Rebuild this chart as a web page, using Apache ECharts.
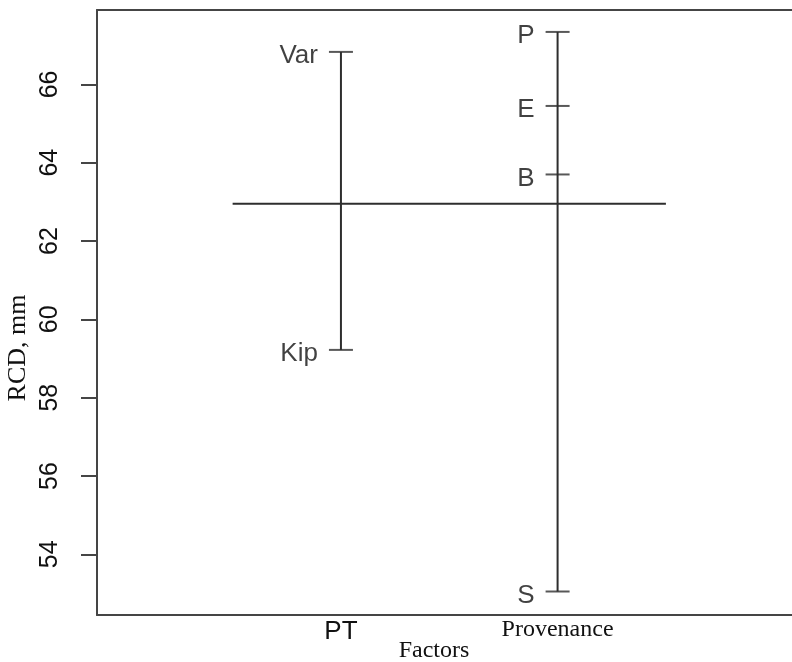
<!DOCTYPE html>
<html>
<head>
<meta charset="utf-8">
<script src="https://cdn.jsdelivr.net/npm/echarts@6/dist/echarts.min.js"></script>
<style>
html,body{margin:0;padding:0;background:#fff;}
#chart{width:792px;height:662px;}
</style>
</head>
<body>
<div id="chart"></div>
<script>
// ---- data ----
const factors = ['PT', 'Provenance'];
const ptLevels = ['Var', 'Kip'];
const ptMeans = [66.83, 59.22];
const provLevels = ['P', 'E', 'B', 'S'];
const provMeans = [67.34, 65.45, 63.70, 53.05];
const grandMean = 62.95;
const yTicks = [54, 56, 58, 60, 62, 64, 66];
const xLabel = 'Factors';
const yLabel = 'RCD, mm';

const SANS = '"Liberation Sans", Arial, sans-serif';
const SERIF = '"Liberation Serif", "Times New Roman", serif';
const TXT = '#111';
const LINE = '#2e2e2e';
const AXIS = '#454545';

const groups = [
  { pos: 1, levels: ptLevels, means: ptMeans },
  { pos: 2, levels: provLevels, means: provMeans }
];

const series = [];
// grand mean line
series.push({
  type: 'line', silent: true, symbol: 'none',
  data: [[0.5, grandMean], [factors.length + 0.5, grandMean]],
  lineStyle: { color: LINE, width: 2 }
});
groups.forEach(g => {
  series.push({
    type: 'line', silent: true, symbol: 'none',
    data: [[g.pos, Math.min(...g.means)], [g.pos, Math.max(...g.means)]],
    lineStyle: { color: LINE, width: 2 }
  });
  series.push({
    type: 'scatter', silent: true,
    symbol: 'rect', symbolSize: [24, 2],
    itemStyle: { color: LINE },
    data: g.levels.map((n, i) => ({ name: n, value: [g.pos, g.means[i]] })),
    label: {
      show: true, position: 'left', distance: 11,
      formatter: p => p.name,
      fontFamily: SANS, fontSize: 26, color: TXT,
      offset: [0, 4]
    }
  });
});

const chart = echarts.init(document.getElementById('chart'), null, { renderer: 'canvas' });
chart.setOption({
  animation: false,
  backgroundColor: '#fff',
  grid: { left: 97, right: -2, top: 10, bottom: 47, containLabel: false },
  xAxis: [{
    type: 'value', min: -0.126, max: 3.082, position: 'bottom',
    axisLine: { show: true, onZero: false, lineStyle: { color: AXIS, width: 2 } },
    axisTick: { show: false },
    splitLine: { show: false },
    axisLabel: {
      show: true, customValues: [1, 2], margin: 3,
      formatter: v => {
        const i = Math.round(v) - 1;
        return i === 0 ? '{a|' + factors[i] + '}' : '{b|' + factors[i] + '}';
      },
      rich: {
        a: { fontFamily: SANS, fontSize: 26, color: TXT, lineHeight: 28 },
        b: { fontFamily: SERIF, fontSize: 24, color: TXT, lineHeight: 24 }
      }
    }
  }, {
    type: 'value', min: -0.126, max: 3.082, position: 'top',
    axisLine: { show: true, onZero: false, lineStyle: { color: AXIS, width: 2 } },
    axisTick: { show: false }, axisLabel: { show: false }, splitLine: { show: false }
  }],
  yAxis: {
    type: 'value', min: 52.45, max: 67.9,
    axisLine: { show: true, onZero: false, lineStyle: { color: AXIS, width: 2 } },
    axisTick: { show: true, customValues: yTicks, length: 16, lineStyle: { color: AXIS, width: 2 } },
    splitLine: { show: false },
    axisLabel: {
      show: true, customValues: yTicks, rotate: 90, margin: 34,
      fontFamily: SANS, fontSize: 25, color: TXT
    }
  },
  graphic: [
    {
      type: 'text', x: 434, y: 651,
      style: { text: xLabel, font: '24px ' + SERIF, fill: TXT, align: 'center', verticalAlign: 'middle' }
    },
    {
      type: 'text', x: 18, y: 348, rotation: Math.PI / 2,
      style: { text: yLabel, font: '26px ' + SERIF, fill: TXT, align: 'center', verticalAlign: 'middle' }
    }
  ],
  series: series
});
</script>
</body>
</html>
